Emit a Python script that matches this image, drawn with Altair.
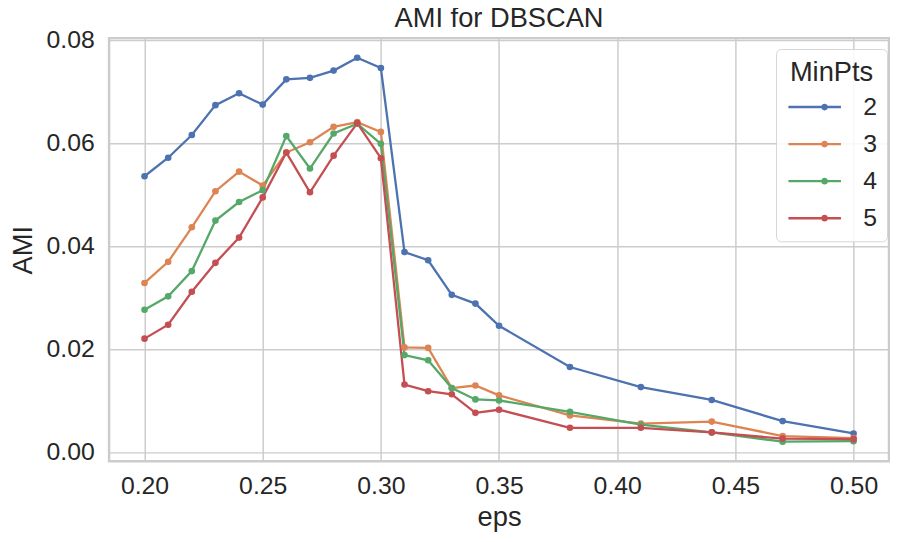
import altair as alt
import pandas as pd

eps = [0.20, 0.21, 0.22, 0.23, 0.24, 0.25, 0.26, 0.27, 0.28, 0.29, 0.30,
       0.31, 0.32, 0.33, 0.34, 0.35, 0.38, 0.41, 0.44, 0.47, 0.50]

ami_2 = [0.0535, 0.0571, 0.0615, 0.0673, 0.0696, 0.0674, 0.0723, 0.0726, 0.0740, 0.0765, 0.0745,
         0.0388, 0.0372, 0.0305, 0.0288, 0.0245, 0.0165, 0.0126, 0.0101, 0.0060, 0.0036]
ami_3 = [0.0328, 0.0369, 0.0436, 0.0506, 0.0544, 0.0517, 0.0581, 0.0601, 0.0631, 0.0640, 0.0621,
         0.0203, 0.0202, 0.0124, 0.0129, 0.0110, 0.0071, 0.0055, 0.0059, 0.0031, 0.0027]
ami_4 = [0.0276, 0.0302, 0.0351, 0.0449, 0.0485, 0.0508, 0.0613, 0.0550, 0.0618, 0.0637, 0.0598,
         0.0188, 0.0178, 0.0124, 0.0102, 0.0100, 0.0078, 0.0053, 0.0038, 0.0020, 0.0021]
ami_5 = [0.0220, 0.0247, 0.0311, 0.0367, 0.0416, 0.0494, 0.0581, 0.0504, 0.0575, 0.0638, 0.0570,
         0.0131, 0.0118, 0.0112, 0.0076, 0.0082, 0.0047, 0.0047, 0.0038, 0.0026, 0.0025]

minpts = ["2", "3", "4", "5"]
colors = ["#4C72B0", "#DD8452", "#55A868", "#C44E52"]

rows = []
for mp, series in zip(minpts, [ami_2, ami_3, ami_4, ami_5]):
    for e, v in zip(eps, series):
        rows.append({"eps": e, "AMI": v, "MinPts": mp})
df = pd.DataFrame(rows)

FONT = "Liberation Sans"
TXT = "#262626"

legend = alt.Legend(
    title="MinPts",
    orient="none",
    legendX=673,
    legendY=11,
    symbolType="M-1,-0.12H4.3V0.12H-1Z M2.99,0A0.34,0.34,0,1,1,2.31,0A0.34,0.34,0,1,1,2.99,0Z",
    symbolSize=400,
    symbolStrokeWidth=0,
    symbolOpacity=1,
    labelFontSize=25,
    labelFont=FONT,
    labelColor=TXT,
    labelOffset=53,
    titleFontSize=27.5,
    titleFont=FONT,
    titleFontWeight="normal",
    titleColor=TXT,
    titleAnchor="middle",
    titlePadding=8.5,
    rowPadding=11.4,
    padding=10,
    strokeColor="#d6d6d6",
    fillColor="rgba(255,255,255,0.85)",
    cornerRadius=5,
)

x = alt.X("eps:Q", title="eps",
          scale=alt.Scale(domain=[0.185, 0.515], nice=False, zero=False),
          axis=alt.Axis(values=[0.20, 0.25, 0.30, 0.35, 0.40, 0.45, 0.50], format=".2f",
                        labelPadding=12, titlePadding=6))
y = alt.Y("AMI:Q", title="AMI",
          scale=alt.Scale(domain=[-0.0018, 0.0803], nice=False, zero=False),
          axis=alt.Axis(values=[0.0, 0.02, 0.04, 0.06, 0.08], format=".2f",
                        labelPadding=15, titlePadding=9))
color = alt.Color("MinPts:N", scale=alt.Scale(domain=minpts, range=colors), legend=legend)

base = alt.Chart(df)
lines = base.mark_line(strokeWidth=2.3).encode(x=x, y=y, color=color)
points = base.mark_point(filled=True, size=45, opacity=1).encode(x=x, y=y, color=color)

chart = alt.layer(lines, points).properties(
    width=787,
    height=427,
    background="white",
    autosize=alt.AutoSizeParams(type="none"),
    padding={"left": 102, "top": 28, "right": 1, "bottom": 76},
    title=alt.TitleParams("AMI for DBSCAN", font=FONT, fontSize=27.5, fontWeight="normal",
                          color=TXT, anchor="middle", offset=-5),
).configure_view(
    stroke="#cccccc", strokeWidth=2.5
).configure_axis(
    grid=True, gridColor="#cccccc", gridWidth=1.5,
    domain=False, ticks=False,
    labelFont=FONT, labelFontSize=25, labelColor=TXT,
    titleFont=FONT, titleFontSize=27.5, titleFontWeight="normal", titleColor=TXT,
)

chart.save("out.html", embed_options={"renderer": "svg", "actions": False})
